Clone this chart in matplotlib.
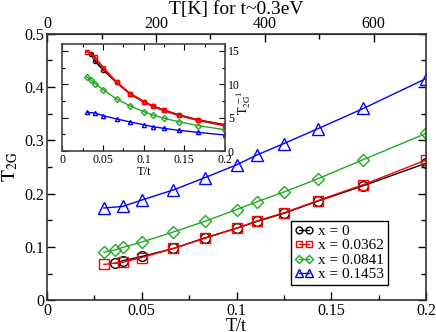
import matplotlib
matplotlib.use("Agg")
import matplotlib.pyplot as plt
from matplotlib.ticker import MultipleLocator, FuncFormatter, FixedLocator

plt.rcParams['font.family'] = ['Liberation Serif', 'DejaVu Serif']
plt.rcParams['mathtext.fontset'] = 'stix'

# ---- data ----
x_black = [0.0357, 0.04, 0.05, 0.0667, 0.0833, 0.1, 0.111, 0.125, 0.143, 0.167, 0.2]
y_black = [0.069, 0.074, 0.082, 0.097, 0.117, 0.135, 0.148, 0.163, 0.186, 0.215, 0.257]
x_red = [0.03, 0.04, 0.05, 0.0667, 0.0833, 0.1, 0.111, 0.125, 0.143, 0.167, 0.2]
y_red = [0.067, 0.071, 0.080, 0.097, 0.116, 0.135, 0.149, 0.164, 0.187, 0.217, 0.263]
x_green = [0.03, 0.0357, 0.04, 0.05, 0.0667, 0.0833, 0.1, 0.111, 0.125, 0.143, 0.167, 0.2]
y_green = [0.090, 0.094, 0.099, 0.109, 0.128, 0.148, 0.170, 0.185, 0.203, 0.228, 0.264, 0.313]
x_blue = [0.03, 0.04, 0.05, 0.0667, 0.0833, 0.1, 0.111, 0.125, 0.143, 0.167, 0.2]
y_blue = [0.173, 0.176, 0.188, 0.207, 0.230, 0.254, 0.273, 0.294, 0.322, 0.360, 0.416]

# inset: inverse T2G
inv_black = [14.5, 13.5, 12.2, 10.3, 8.55, 7.4, 6.75, 6.1, 5.4, 4.65, 3.9]
inv_red = [14.9, 14.1, 12.5, 10.3, 8.6, 7.4, 6.7, 6.1, 5.35, 4.6, 3.8]
inv_green = [11.1, 10.6, 10.1, 9.2, 7.8, 6.75, 5.9, 5.4, 4.9, 4.4, 3.8, 3.2]
inv_blue = [5.8, 5.7, 5.3, 4.8, 4.35, 3.95, 3.65, 3.4, 3.1, 2.8, 2.4]

labels = ['x = 0', 'x = 0.0362', 'x = 0.0841', 'x = 0.1453']
top_ticks = [0, 200, 400, 600]
top_minor = [100, 300, 500]
colors = ['black', '#ff0000', '#22aa22', '#0000ff']
markers = ['o', 's', 'D', '^']
msizes = [7, 7, 6, 8]

t_kelvin = 3481.0  # t ~ 0.3 eV in K

fmt = FuncFormatter(lambda v, p: '%g' % round(v, 3))

fig = plt.figure(figsize=(4.36, 3.32), dpi=100)
ax = fig.add_axes([0.108, 0.096, 0.869, 0.802])

series = [(x_black, y_black), (x_red, y_red), (x_green, y_green), (x_blue, y_blue)]
for (xs, ys), lab, c, m, ms in zip(series, labels, colors, markers, msizes):
    ax.plot(xs, ys, color=c, marker=m, markersize=ms, markerfacecolor='none',
            markeredgecolor=c, markeredgewidth=1.0, linewidth=1.0, label=lab)

ax.set_xlim(0, 0.2)
ax.set_ylim(0, 0.5)
ax.xaxis.set_major_locator(MultipleLocator(0.05))
ax.xaxis.set_minor_locator(MultipleLocator(0.025))
ax.yaxis.set_major_locator(MultipleLocator(0.1))
ax.yaxis.set_minor_locator(MultipleLocator(0.05))
ax.xaxis.set_major_formatter(fmt)
ax.yaxis.set_major_formatter(fmt)
ax.tick_params(which='both', direction='in', right=True, labelsize=11.5, pad=2)
ax.tick_params(which='major', length=6, width=1)
ax.tick_params(which='minor', length=3.5, width=1)
for s in ax.spines.values():
    s.set_linewidth(1.2)
    s.set_color('#333333')
ax.set_xlabel('T/t', fontsize=13, labelpad=-1)
ax.set_ylabel(r'$\mathrm{T_{2G}}$', fontsize=14, labelpad=3)

sec = ax.secondary_xaxis('top', functions=(lambda v: v * t_kelvin, lambda v: v / t_kelvin))
sec.xaxis.set_major_locator(FixedLocator(top_ticks))
sec.xaxis.set_minor_locator(FixedLocator(top_minor))
sec.xaxis.set_major_formatter(fmt)
sec.tick_params(which='both', direction='in', labelsize=11.5, pad=1)
sec.tick_params(which='major', length=6, width=1)
sec.tick_params(which='minor', length=3.5, width=1)
sec.set_xlabel('T[K] for t~0.3eV', fontsize=14, labelpad=2)

leg = ax.legend(loc='lower left', bbox_to_anchor=(0.644, 0.056), borderaxespad=0,
                fontsize=11, numpoints=2, handlelength=1.2, handletextpad=0.3,
                labelspacing=0.05, markerscale=0.7, fancybox=False, framealpha=1,
                borderpad=0.25)
leg.get_frame().set_edgecolor('black')
leg.get_frame().set_linewidth(1.0)

# ---- inset ----
axi = fig.add_axes([0.143, 0.545, 0.373, 0.322])
inv = [(x_black, inv_black), (x_red, inv_red), (x_green, inv_green), (x_blue, inv_blue)]
lws = [1.3, 1.3, 1.0, 1.0]
for (xs, ys), c, m, lw in zip(inv, colors, markers, lws):
    axi.plot(xs, ys, color=c, marker=m, markersize=3, markerfacecolor='none',
             markeredgecolor=c, markeredgewidth=1.0, linewidth=lw)
axi.set_xlim(0, 0.2)
axi.set_ylim(0, 16)
axi.xaxis.set_major_locator(MultipleLocator(0.05))
axi.xaxis.set_minor_locator(MultipleLocator(0.025))
axi.yaxis.set_major_locator(MultipleLocator(5))
axi.yaxis.set_minor_locator(MultipleLocator(2.5))
axi.xaxis.set_major_formatter(fmt)
axi.yaxis.tick_right()
axi.yaxis.set_label_position('right')
axi.tick_params(which='both', direction='in', left=True, right=True, top=True,
                labelsize=8.5, pad=2)
axi.tick_params(which='major', length=4, width=0.8)
axi.tick_params(which='minor', length=2, width=0.8)
for s in axi.spines.values():
    s.set_linewidth(1.2)
    s.set_color('#444444')
axi.set_xlabel('T/t', fontsize=9, labelpad=0)
axi.set_ylabel(r'$\mathrm{T_{2G}^{\ -1}}$', fontsize=9)
axi.yaxis.set_label_coords(1.06, 0.45)

fig.savefig('out.png', dpi=100)
